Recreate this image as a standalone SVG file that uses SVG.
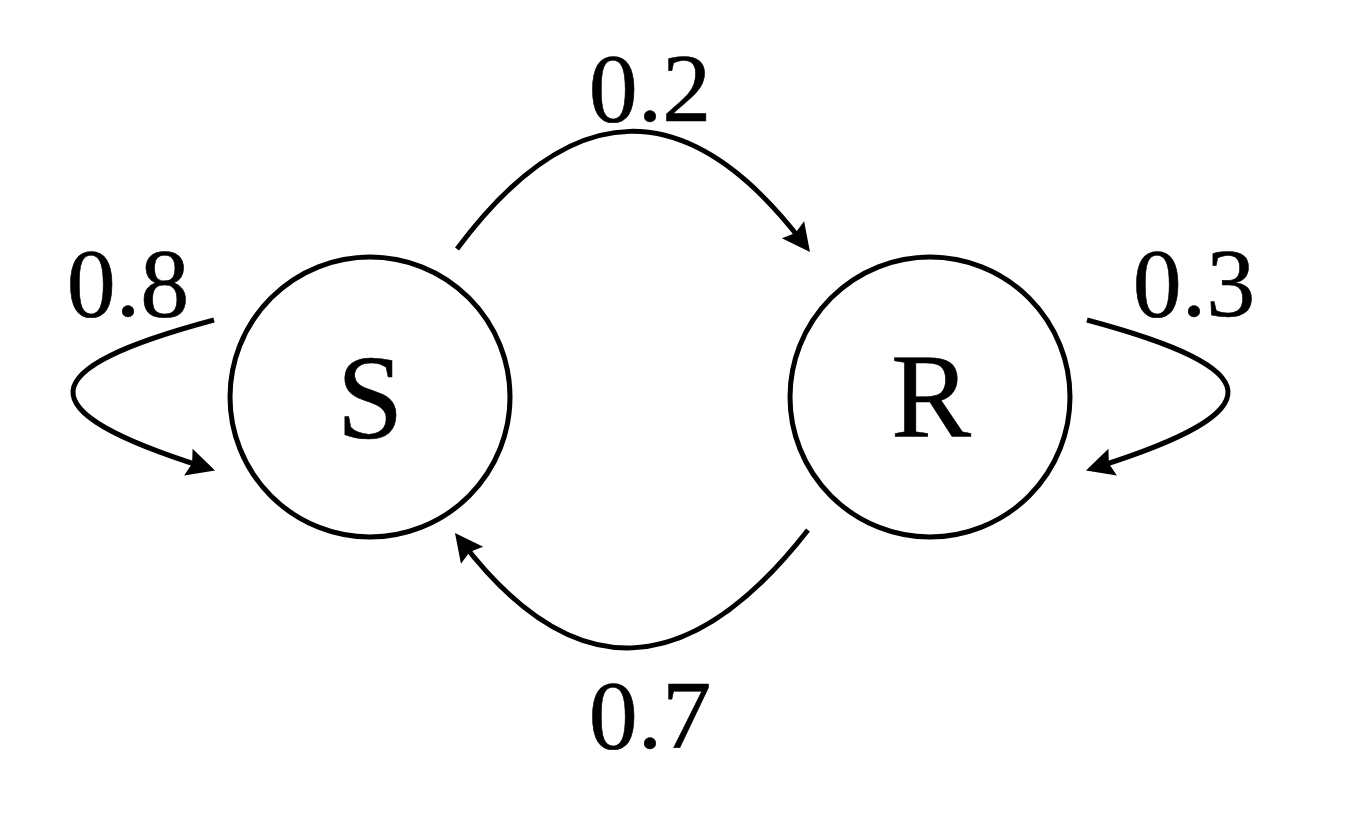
<svg xmlns="http://www.w3.org/2000/svg" width="1349" height="820" viewBox="0 0 1349 820">
<style>
.node{fill:#fff;stroke:#000;stroke-width:5}
.edge{fill:none;stroke:#000;stroke-width:5;marker-end:url(#arr)}
.lbl{font-family:"Times New Roman","Liberation Serif",serif;font-size:98px;fill:#000;stroke:#000;stroke-width:0.6;text-anchor:middle}
.nl{font-family:"Times New Roman","Liberation Serif",serif;font-size:120px;fill:#000;stroke:#000;stroke-width:0.6;text-anchor:middle}
</style>
<defs>
<marker id="arr" markerUnits="userSpaceOnUse" viewBox="-20 -15 36 30" refX="0" refY="0" markerWidth="36" markerHeight="30" orient="auto" overflow="visible">
<path d="M12,0 L-16,-14 L-12,0 L-16,14 Z" fill="#000"/>
</marker>
</defs>
<rect width="1349" height="820" fill="#fff"/>
<g id="node-S">
<circle class="node" cx="370" cy="397" r="140"/>
<text class="nl" x="370" y="438">S</text>
</g>
<g id="node-R">
<circle class="node" cx="930" cy="397" r="140"/>
<text class="nl" x="931" y="437">R</text>
</g>
<g id="connectors">
<path id="e-SR" class="edge" d="M457,249 Q630,17 802.7,242.5"/>
<path id="e-RS" class="edge" d="M808,530 Q629,759.5 462.3,542.5"/>
<path id="e-SS" class="edge" d="M214,320 C31,369 24.6,410.4 203.6,467"/>
<path id="e-RR" class="edge" d="M1087,320 C1270,369 1276.4,410.4 1097.4,467"/>
</g>
<g id="labels">
<text class="lbl" x="650" y="121">0.2</text>
<text class="lbl" x="650" y="748">0.7</text>
<text class="lbl" x="128" y="316">0.8</text>
<text class="lbl" x="1194" y="316">0.3</text>
</g>
</svg>
